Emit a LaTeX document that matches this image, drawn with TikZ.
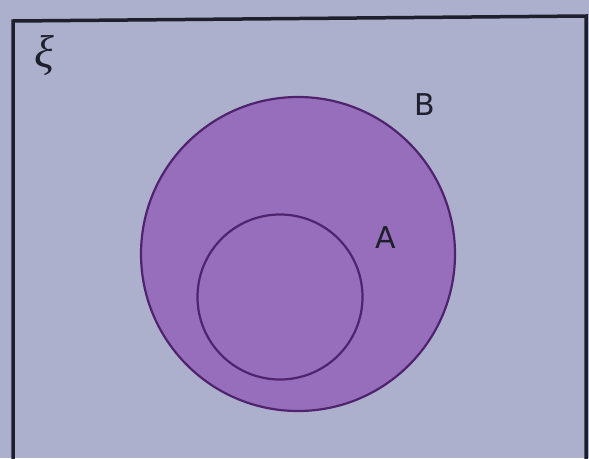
\documentclass[tikz,border=0pt]{standalone}
\usepackage{fontspec}
\setsansfont{DejaVu Sans}
\newfontfamily\labfont{DejaVu Sans}
\newfontfamily\xifont{Liberation Serif}
\definecolor{bgc}{RGB}{172,176,204}
\definecolor{fillc}{RGB}{150,110,188}
\definecolor{linec}{RGB}{80,35,110}
\definecolor{framec}{RGB}{30,32,45}
\tikzset{
  setcircle/.style={draw=linec, line width=2.2pt},
  setlabel/.style={font=\labfont\fontsize{30}{36}\selectfont, text=framec},
}
\begin{document}
\begin{tikzpicture}[x=1pt,y=-1pt]
\fill[bgc] (0,0) rectangle (589,458);
\useasboundingbox (0,0) rectangle (589,458);
\begin{scope}
\clip (0,0) rectangle (589,458);
\draw[framec, line width=3.5pt] (13,480) -- (13,21) -- (586,16) -- (586,480);
\end{scope}
\node[font=\xifont\itshape\fontsize{46}{50}\selectfont, text=framec] (xi) at (44,55) {ξ};
\node[setcircle, fill=fillc, circle, minimum size=314pt, inner sep=0pt] (B) at (298,254) {};
\node[setcircle, circle, minimum size=165pt, inner sep=0pt] (A) at (280,297) {};
\node[setlabel] (lB) at (425,105) {B};
\node[setlabel] (lA) at (386,238) {A};
\end{tikzpicture}
\end{document}
